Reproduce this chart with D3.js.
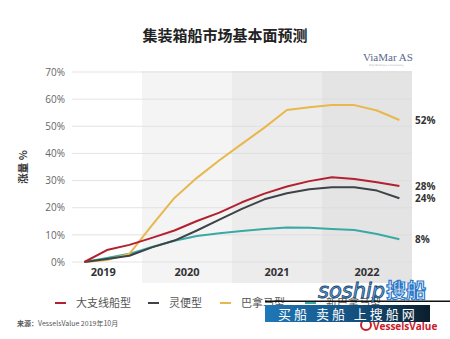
<!DOCTYPE html>
<html><head><meta charset="utf-8">
<script src="https://cdn.jsdelivr.net/npm/d3@7"></script>
<style>html,body{margin:0;padding:0;background:#fff;}svg{display:block;}</style>
</head><body>
<script>
// ---- data ----
const periods = [2019.36,2019.61,2019.86,2020.11,2020.36,2020.61,2020.86,2021.11,2021.36,2021.61,2021.86,2022.11,2022.36,2022.61,2022.86];
const feederVals   = [0,4.4,6.3,8.9,11.6,15.1,18.2,22.0,25.2,27.8,29.8,31.2,30.6,29.4,28.0];
const handyVals    = [0,1.1,2.3,5.4,7.9,11.6,15.6,19.6,23.1,25.3,26.8,27.5,27.5,26.3,23.5];
const panamaxVals  = [0,0.7,3.0,13.5,23.6,31.0,37.5,43.5,49.5,56.0,57.0,57.8,57.8,55.8,52.3];
const neoPanaVals  = [0,1.5,3.0,5.5,7.8,9.6,10.6,11.4,12.2,12.7,12.6,12.2,11.8,10.3,8.4];
const seriesNames  = ["大支线船型","灵便型","巴拿马型","新巴拿马型"];
const endLabels    = ["28%","24%","52%","8%"];
const years        = [2019,2020,2021,2022];
const yTicks       = [0,10,20,30,40,50,60,70];
const title        = "集装箱船市场基本面预测";
const yTitle       = "涨量 %";
const source       = "VesselsValue 2019年10月";

const colors = ["#b3202f","#3e4347","#e9b84c","#3aa9a6"];
const bandFills = [null,"#f4f4f4","#ececec","#e4e4e4"];
const seriesVals = [feederVals, handyVals, panamaxVals, neoPanaVals];

const W=450,H=339;
const svg=d3.select("body").append("svg").attr("width",W).attr("height",H);
const x=d3.scaleLinear().domain([2019,2023]).range([52,412]);
const y=d3.scaleLinear().domain([0,70]).range([262,72]);

// title
svg.append("text").attr("x",225).attr("y",41).attr("text-anchor","middle")
  .attr("font-family","'Noto Sans CJK SC'").attr("font-weight","bold").attr("font-size",15)
  .attr("fill","#222").text(title);

// ViaMar logo
svg.append("text").attr("x",363).attr("y",61).attr("font-family","'Liberation Serif',serif")
  .attr("font-size",11).attr("fill","#56688a").text("ViaMar AS");
svg.append("text").attr("x",369).attr("y",66).attr("font-family","'DejaVu Sans'")
  .attr("font-size",2.5).attr("fill","#aab").text("Ship Broking & Consultancy");

// bands
years.forEach((yr,i)=>{
  if(!bandFills[i]) return;
  svg.append("rect").attr("x",x(yr)).attr("y",71).attr("width",x(yr+1)-x(yr)).attr("height",212)
    .attr("fill",bandFills[i]);
});

// gridlines
svg.append("g").selectAll("line").data(yTicks).join("line")
  .attr("x1",72).attr("x2",412).attr("y1",d=>y(d)).attr("y2",d=>y(d))
  .attr("stroke","#dcdcdc").attr("stroke-width",0.8);

// y axis labels
const yAxis=d3.axisLeft(y).tickValues(yTicks).tickFormat(d=>d+"%").tickSize(0).tickPadding(0);
const ga=svg.append("g").attr("transform","translate(65,0)").call(yAxis);
ga.select(".domain").remove();
ga.selectAll("text").attr("font-family","'Open Sans'").attr("font-size",10).attr("fill","#666");

// y title
svg.append("text").attr("transform","translate(27,167) rotate(-90)").attr("text-anchor","middle")
  .attr("font-family","'Noto Sans CJK SC'").attr("font-weight","bold").attr("font-size",10.5)
  .attr("fill","#333").text(yTitle);

// year labels
svg.append("g").selectAll("text").data(years).join("text")
  .attr("x",(d,i)=> i===0 ? (x(d)+ (x(d+1)-x(d))*0.57) : x(d+0.5)).attr("y",276).attr("text-anchor","middle")
  .attr("font-family","'Open Sans'").attr("font-weight","bold").attr("font-size",11)
  .attr("fill","#333").text(d=>d);

// lines
const line=d3.line().x((d,i)=>x(periods[i])).y(d=>y(d));
const drawOrder=[3,2,1,0];
drawOrder.forEach(k=>{
  svg.append("path").datum(seriesVals[k]).attr("d",line).attr("fill","none")
    .attr("stroke",colors[k]).attr("stroke-width",2).attr("stroke-linejoin","round");
});

// end labels
seriesVals.forEach((vals,k)=>{
  let yy=y(vals[vals.length-1]);
  svg.append("text").attr("x",415).attr("y",yy+4).attr("font-family","'Open Sans'")
    .attr("font-weight","bold").attr("font-size",10).attr("fill","#333").text(endLabels[k]);
});

// legend
const legX=[55,148,220,305];
seriesNames.forEach((n,k)=>{
  svg.append("line").attr("x1",legX[k]).attr("x2",legX[k]+11).attr("y1",303).attr("y2",303)
    .attr("stroke",colors[k]).attr("stroke-width",2);
  svg.append("text").attr("x",legX[k]+21).attr("y",307).attr("font-family","'Noto Sans CJK SC'")
    .attr("font-size",11).attr("fill","#555").text(n);
});

// source
const st=svg.append("text").attr("x",17).attr("y",326).attr("font-family","'Noto Sans CJK SC'")
  .attr("font-size",7).attr("fill","#555");
st.append("tspan").attr("font-weight","bold").text("来源：");
st.append("tspan").text(source);

// VesselsValue logo
svg.append("circle").attr("cx",366).attr("cy",325).attr("r",5).attr("fill","none").attr("stroke","#c8202c").attr("stroke-width",2);
svg.append("text").attr("x",373).attr("y",330).attr("font-family","'Open Sans'").attr("font-weight","bold")
  .attr("font-size",10).attr("fill","#c8202c").text("VesselsValue");

// watermark
const defs=svg.append("defs");
const gr=defs.append("linearGradient").attr("id","bn").attr("x1","0").attr("x2","1");
gr.append("stop").attr("offset","0").attr("stop-color","#1f78b8");
gr.append("stop").attr("offset","0.55").attr("stop-color","#14507e");
gr.append("stop").attr("offset","1").attr("stop-color","#0b1e2c");
svg.append("rect").attr("x",265).attr("y",300.5).attr("width",185).attr("height",1.5).attr("fill","#111");
svg.append("rect").attr("x",265).attr("y",305).attr("width",165).attr("height",17).attr("fill","url(#bn)");
svg.append("text").attr("x",278).attr("y",319).attr("font-family","'Noto Sans CJK SC'").attr("font-size",13)
  .attr("fill","#fff").attr("letter-spacing",3).text("买船 卖船 上搜船网");
svg.append("text").attr("x",318).attr("y",298).attr("font-family","'DejaVu Sans'").attr("font-style","italic")
  .attr("font-size",21).attr("fill","#5aa6e6").attr("stroke","#1a3f66").attr("stroke-width",0.8).text("soship");
svg.append("text").attr("x",386).attr("y",298).attr("font-family","'Noto Sans CJK SC'").attr("font-weight","bold")
  .attr("font-size",20).attr("fill","#fff").attr("stroke","#2a78c8").attr("stroke-width",1.2).text("搜船");
</script>
</body></html>
